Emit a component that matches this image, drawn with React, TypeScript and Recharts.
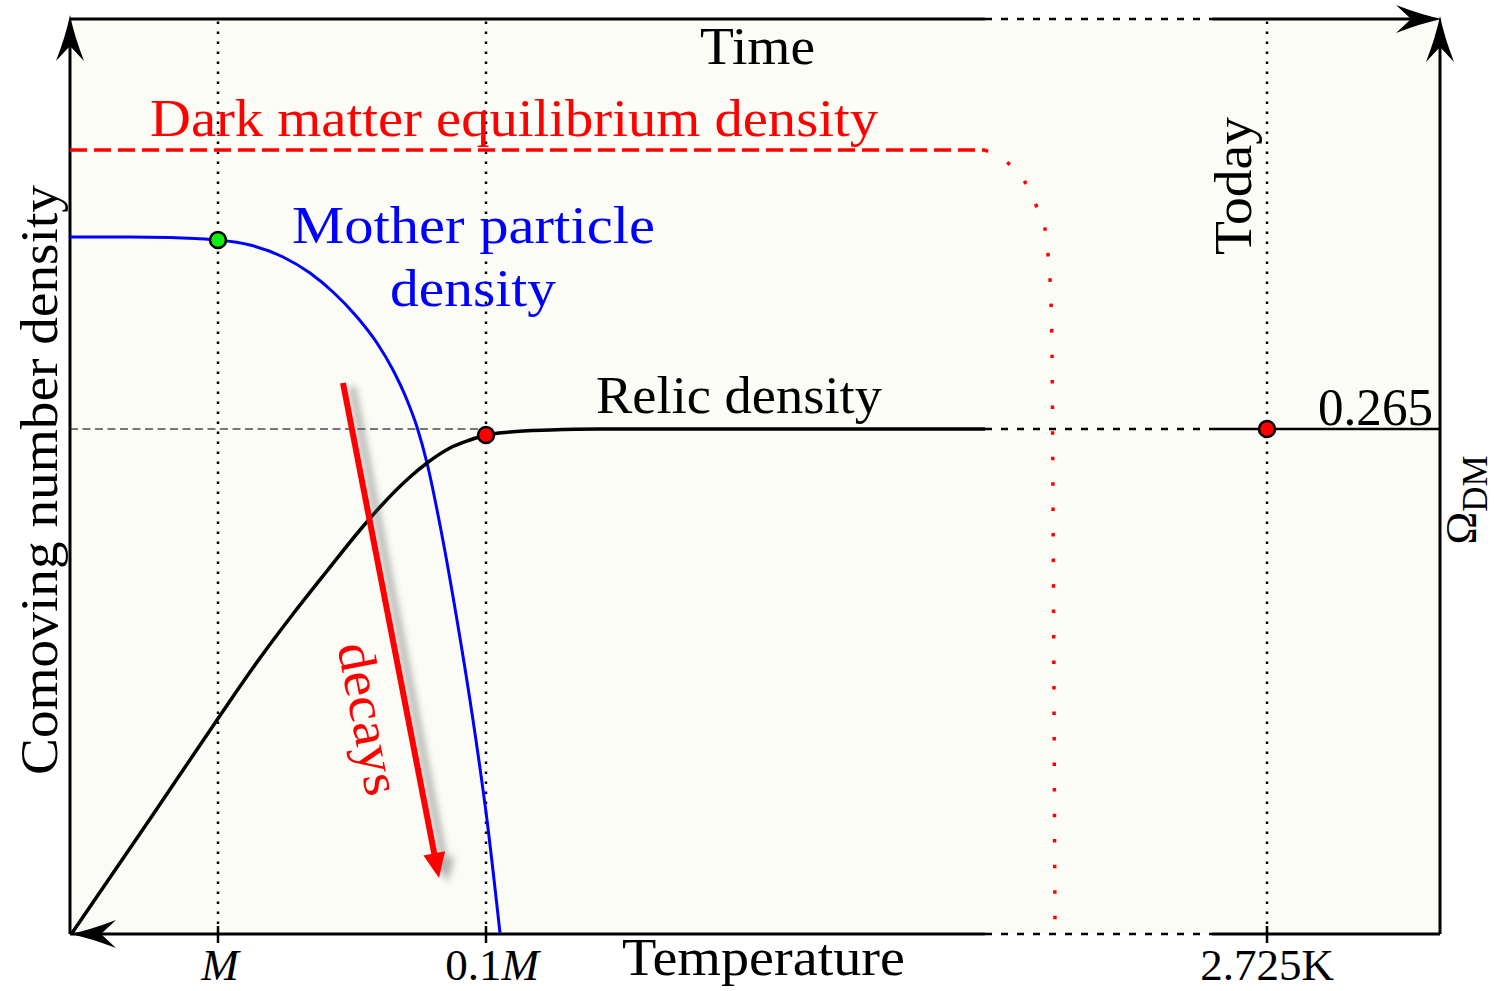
import React from 'react'
import {
  ComposedChart, Line, XAxis, YAxis, CartesianGrid,
  ReferenceLine, ReferenceDot,
} from 'recharts'

// schematic units: x runs along temperature/time (0..1370), y is comoving density (0..915)
const X_MAX = 1370
const Y_MAX = 915

const eqDensity = [
  { x: 0, y: 784 }, { x: 915, y: 784 },
]
const eqDropoff = [
  { x: 915, y: 784 }, { x: 938, y: 771 }, { x: 955, y: 752 }, { x: 966, y: 729 },
  { x: 975, y: 705 }, { x: 978, y: 680 }, { x: 980, y: 656 }, { x: 982, y: 584 },
  { x: 983, y: 434 }, { x: 984, y: 234 }, { x: 985, y: 1 },
]
const motherDensity = [
  { x: 0, y: 697 }, { x: 60, y: 697 }, { x: 100, y: 696.5 }, { x: 125, y: 695.5 },
  { x: 148, y: 694 }, { x: 180, y: 689 }, { x: 213, y: 677 }, { x: 240, y: 661 },
  { x: 263, y: 642 }, { x: 287, y: 617 }, { x: 307, y: 591 }, { x: 323, y: 564 },
  { x: 337, y: 534 }, { x: 347, y: 507 }, { x: 357, y: 471 }, { x: 370, y: 409 },
  { x: 387, y: 314 }, { x: 403, y: 214 }, { x: 417, y: 114 }, { x: 430, y: 1 },
]
const relicDensity = [
  { x: 2, y: 1 }, { x: 80, y: 115 }, { x: 147, y: 214 }, { x: 190, y: 276 },
  { x: 223, y: 320 }, { x: 257, y: 363 }, { x: 290, y: 404 }, { x: 310, y: 427 },
  { x: 340, y: 457 }, { x: 357, y: 471 }, { x: 380, y: 486 }, { x: 400, y: 494 },
  { x: 416, y: 499 }, { x: 440, y: 502 }, { x: 480, y: 504 }, { x: 530, y: 505 },
  { x: 915, y: 505 },
]
const RELIC = 505
const BREAK_START = 915
const BREAK_END = 1142

const tempTicks = [148, 416, 1197]
const tempTickLabels = ['M', '0.1M', '2.725K']

const decayArrow = { from: { x: 273, y: 551 }, to: { x: 369, y: 56 } }

const FONT = '"Liberation Serif", "DejaVu Serif", serif'
const RED = '#ff0000'
const BLUE = '#0000ff'

// stealth arrow head, tip at (cx, cy), rotated by angle (0 = points right)
const arrowHead = (angle: number) => (p: any) => (
  <path
    d="M0 0 Q-20 -4 -46 -14 L-31 0 L-46 14 Q-20 4 0 0 Z"
    fill="#000"
    transform={`translate(${p.cx},${p.cy}) rotate(${angle})`}
  />
)

interface TextOpts {
  fill?: string
  size?: number
  width?: number
  anchor?: 'start' | 'middle' | 'end'
  rotate?: number
}

const label = (content: React.ReactNode, o: TextOpts = {}) => (p: any) => (
  <text
    x={p.cx} y={p.cy}
    fill={o.fill ?? '#000'}
    fontSize={o.size ?? 52}
    fontFamily={FONT}
    textAnchor={o.anchor ?? 'start'}
    textLength={o.width}
    lengthAdjust={o.width ? 'spacingAndGlyphs' : undefined}
    transform={o.rotate ? `rotate(${o.rotate} ${p.cx} ${p.cy})` : undefined}
  >
    {content}
  </text>
)

const TempTick = ({ x, y, payload }: any) => {
  const i = tempTicks.indexOf(payload.value)
  const txt = tempTickLabels[i]
  return (
    <g>
      <line x1={x} x2={x} y1={y - 8} y2={y + 9} stroke="#000" strokeWidth={2.5} />
      <text x={x} y={y + 46} textAnchor="middle" fontSize={45} fontFamily={FONT} fill="#000">
        {txt === 'M' && <tspan fontStyle="italic" dx={2}>M</tspan>}
        {txt === '0.1M' && <><tspan dx={6}>0.1</tspan><tspan fontStyle="italic">M</tspan></>}
        {txt === '2.725K' && txt}
      </text>
    </g>
  )
}

const DecayArrowShape = (p: any) => {
  const { x1, y1, x2, y2 } = p
  const ang = Math.atan2(y2 - y1, x2 - x1)
  const deg = (ang * 180) / Math.PI
  const hl = 22
  const bx = x2 - hl * Math.cos(ang)
  const by = y2 - hl * Math.sin(ang)
  return (
    <g>
      <g filter="url(#arrowShadow)" opacity={0.5}>
        <line x1={x1 + 9} y1={y1 + 4} x2={bx + 9} y2={by + 4} stroke="#666" strokeWidth={7} />
        <path d="M0 0 L-24 -11 L-24 11 Z" fill="#666"
          transform={`translate(${x2 + 9},${y2 + 4}) rotate(${deg})`} />
      </g>
      <line x1={x1} y1={y1} x2={bx} y2={by} stroke={RED} strokeWidth={6} />
      <path d="M0 0 L-25 -11 L-25 11 Z" fill={RED}
        transform={`translate(${x2},${y2}) rotate(${deg})`} />
    </g>
  )
}

const dotted = { stroke: '#000', strokeWidth: 2.5, strokeDasharray: '2.5 7.5' }
const axisDash = { stroke: '#000', strokeWidth: 2.5, strokeDasharray: '7 9' }
const axisSolid = { stroke: '#000', strokeWidth: 3 }

export default function App() {
  return (
    <div style={{ position: 'absolute', left: 0, top: 0, background: '#fff' }}>
      <ComposedChart width={1498} height={991} margin={{ top: 19, right: 58, bottom: 0, left: 70 }}>
        <defs>
          <filter id="arrowShadow" x="-50%" y="-50%" width="200%" height="200%">
            <feGaussianBlur stdDeviation="3.5" />
          </filter>
        </defs>
        <CartesianGrid fill="#fcfcf6" horizontal={false} vertical={false} />
        <XAxis
          type="number" dataKey="x" domain={[0, X_MAX]} allowDataOverflow
          ticks={tempTicks} interval={0} height={57}
          axisLine={false} tickLine={false} tickSize={0} tickMargin={0}
          tick={<TempTick />}
        />
        <YAxis type="number" domain={[0, Y_MAX]} allowDataOverflow hide />

        {/* guide lines */}
        {tempTicks.map(t => (
          <ReferenceLine key={t} segment={[{ x: t, y: 0 }, { x: t, y: Y_MAX }]} {...dotted} />
        ))}
        <ReferenceLine segment={[{ x: 0, y: RELIC }, { x: 416, y: RELIC }]}
          stroke="#777" strokeWidth={2.2} strokeDasharray="8 4.5" />

        {/* frame */}
        <ReferenceLine segment={[{ x: 0, y: 0 }, { x: BREAK_START, y: 0 }]} {...axisSolid} />
        <ReferenceLine segment={[{ x: BREAK_START, y: 0 }, { x: BREAK_END, y: 0 }]} {...axisDash} />
        <ReferenceLine segment={[{ x: BREAK_END, y: 0 }, { x: X_MAX, y: 0 }]} {...axisSolid} />
        <ReferenceLine segment={[{ x: 0, y: Y_MAX }, { x: BREAK_START, y: Y_MAX }]} {...axisSolid} />
        <ReferenceLine segment={[{ x: BREAK_START, y: Y_MAX }, { x: BREAK_END, y: Y_MAX }]} {...axisDash} />
        <ReferenceLine segment={[{ x: BREAK_END, y: Y_MAX }, { x: X_MAX - 20, y: Y_MAX }]} {...axisSolid} />
        <ReferenceLine segment={[{ x: 0, y: 0 }, { x: 0, y: Y_MAX - 20 }]} {...axisSolid} ifOverflow="visible" />
        <ReferenceLine segment={[{ x: X_MAX, y: 0 }, { x: X_MAX, y: Y_MAX - 20 }]} {...axisSolid} ifOverflow="visible" />

        {/* relic density continues to today */}
        <ReferenceLine segment={[{ x: BREAK_START, y: RELIC }, { x: BREAK_END, y: RELIC }]} {...axisDash} />
        <ReferenceLine segment={[{ x: BREAK_END, y: RELIC }, { x: X_MAX, y: RELIC }]} stroke="#000" strokeWidth={2.5} />

        <Line data={eqDensity} dataKey="y" type="linear" stroke={RED} strokeWidth={3.5}
          strokeDasharray="17 7" dot={false} isAnimationActive={false} />
        <Line data={eqDropoff} dataKey="y" type="monotone" stroke={RED} strokeWidth={3.5}
          strokeDasharray="3.5 22" dot={false} isAnimationActive={false} />
        <Line data={motherDensity} dataKey="y" type="monotone" stroke={BLUE} strokeWidth={3}
          dot={false} isAnimationActive={false} />
        <Line data={relicDensity} dataKey="y" type="monotone" stroke="#000" strokeWidth={3.5}
          dot={false} isAnimationActive={false} />

        <ReferenceLine segment={[decayArrow.from, decayArrow.to]} shape={DecayArrowShape} ifOverflow="visible" />

        {/* arrow heads */}
        <ReferenceDot x={0} y={919} r={1} ifOverflow="visible" shape={arrowHead(-90)} />
        <ReferenceDot x={X_MAX} y={918} r={1} ifOverflow="visible" shape={arrowHead(-90)} />
        <ReferenceDot x={X_MAX + 2} y={Y_MAX} r={1} ifOverflow="visible" shape={arrowHead(0)} />
        <ReferenceDot x={0} y={0} r={1} ifOverflow="visible" shape={arrowHead(180)} />

        {/* markers */}
        <ReferenceDot x={148} y={694} r={8} fill="#11ee11" stroke="#000" strokeWidth={2.5} ifOverflow="visible" />
        <ReferenceDot x={416} y={499} r={8} fill={RED} stroke="#000" strokeWidth={2.5} ifOverflow="visible" />
        <ReferenceDot x={1197} y={RELIC} r={8} fill={RED} stroke="#000" strokeWidth={2.5} ifOverflow="visible" />

        {/* labels */}
        <ReferenceDot x={630} y={870} ifOverflow="visible" shape={label('Time', { width: 115 })} />
        <ReferenceDot x={80} y={798} ifOverflow="visible"
          shape={label('Dark matter equilibrium density', { fill: RED, width: 728 })} />
        <ReferenceDot x={222} y={691} ifOverflow="visible"
          shape={label('Mother particle', { fill: BLUE, width: 363 })} />
        <ReferenceDot x={320} y={628} ifOverflow="visible"
          shape={label('density', { fill: BLUE, width: 166 })} />
        <ReferenceDot x={526} y={521} ifOverflow="visible"
          shape={label('Relic density', { width: 286 })} />
        <ReferenceDot x={1248} y={509} ifOverflow="visible"
          shape={label('0.265', { width: 115 })} />
        <ReferenceDot x={1181} y={679} ifOverflow="visible"
          shape={label('Today', { width: 138, rotate: -90 })} />
        <ReferenceDot x={-13} y={159} ifOverflow="visible"
          shape={label('Comoving number density', { width: 590, rotate: -90 })} />
        <ReferenceDot x={552} y={-41} ifOverflow="visible"
          shape={label('Temperature', { width: 283 })} />
        <ReferenceDot x={282} y={212} ifOverflow="visible"
          shape={label('decays', { fill: RED, width: 155, anchor: 'middle', rotate: 79 })} />
        <ReferenceDot x={1406} y={434} ifOverflow="visible"
          shape={label(<><tspan>Ω</tspan><tspan fontSize={35} dy={11}>DM</tspan></>, { size: 44, anchor: 'middle', rotate: -90 })} />
      </ComposedChart>
    </div>
  )
}
